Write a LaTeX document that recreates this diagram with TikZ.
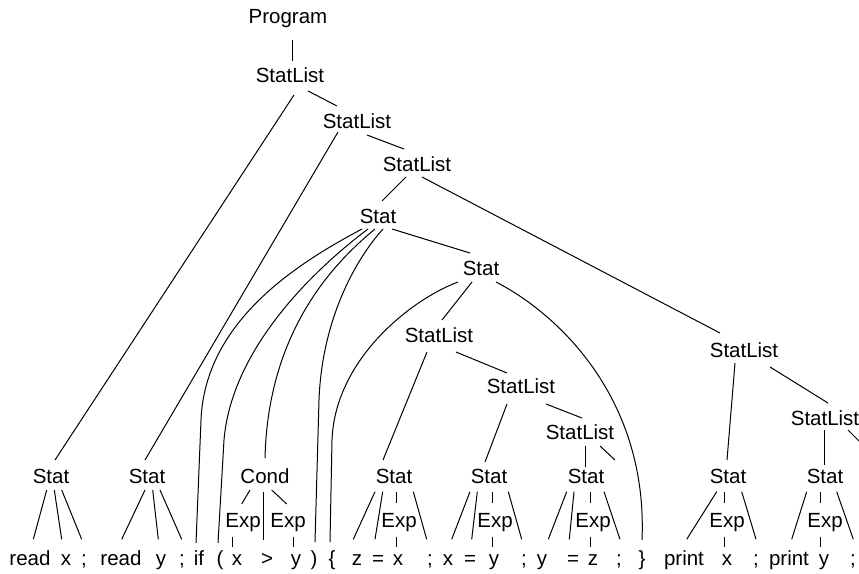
\documentclass[tikz,border=0pt]{standalone}
\usepackage{fontspec}
\setmainfont{Liberation Sans}
\usetikzlibrary{calc}
\newcommand\tedge[4]{\draw[edge] ($(#1.base)+(#2)$) -- ($(#3.base)+(#4)$);}
\begin{document}
\begin{tikzpicture}[x=1pt,y=-1pt,
  lbl/.style={anchor=base,inner sep=0pt,font=\fontsize{20.5}{24}\selectfont},
  edge/.style={line width=1pt,black}]
\useasboundingbox (0,0) rectangle (859,573);
\clip (0,0) rectangle (859,573);
% upper nodes
\node[lbl] (prog) at (288,23) {Program};
\node[lbl] (sl1) at (290,82) {StatList};
\node[lbl] (sl2) at (357,128) {StatList};
\node[lbl] (sl3) at (417,171) {StatList};
\node[lbl] (st0) at (378,223) {Stat};
\node[lbl] (st2) at (481,275) {Stat};
\node[lbl] (sla) at (439,342) {StatList};
\node[lbl] (slb) at (521,393) {StatList};
\node[lbl] (slc) at (580,439) {StatList};
\node[lbl] (slr1) at (744,357) {StatList};
\node[lbl] (slr2) at (825,425) {StatList};
\coordinate (eps) at (615,460);
\coordinate (offr) at (880,462);
% Stat row
\node[lbl] (s1) at (51,483) {Stat};
\node[lbl] (s2) at (147,483) {Stat};
\node[lbl] (cond) at (265,483) {Cond};
\node[lbl] (s3) at (394,483) {Stat};
\node[lbl] (s4) at (489,483) {Stat};
\node[lbl] (s5) at (586,483) {Stat};
\node[lbl] (s6) at (728,483) {Stat};
\node[lbl] (s7) at (825,483) {Stat};
% Exp row
\node[lbl] (e1) at (243,527) {Exp};
\node[lbl] (e2) at (288,527) {Exp};
\node[lbl] (e3) at (399,527) {Exp};
\node[lbl] (e4) at (495,527) {Exp};
\node[lbl] (e5) at (593,527) {Exp};
\node[lbl] (e6) at (727,527) {Exp};
\node[lbl] (e7) at (825,527) {Exp};
% leaves
\node[lbl] (l1) at (30,565) {read};
\node[lbl] (l2) at (66,565) {x};
\node[lbl] (l3) at (84,565) {;};
\node[lbl] (l4) at (121,565) {read};
\node[lbl] (l5) at (161,565) {y};
\node[lbl] (l6) at (182,565) {;};
\node[lbl] (l7) at (199,565) {if};
\node[lbl] (l8) at (220,565) {(};
\node[lbl] (l9) at (237,565) {x};
\node[lbl] (l10) at (267,565) {>};
\node[lbl] (l11) at (296,565) {y};
\node[lbl] (l12) at (314,565) {)};
\node[lbl] (l13) at (332,565) {\{};
\node[lbl] (l14) at (357,565) {z};
\node[lbl] (l15) at (378,565) {=};
\node[lbl] (l16) at (398,565) {x};
\node[lbl] (l17) at (430,565) {;};
\node[lbl] (l18) at (448,565) {x};
\node[lbl] (l19) at (470,565) {=};
\node[lbl] (l20) at (494,565) {y};
\node[lbl] (l21) at (524,565) {;};
\node[lbl] (l22) at (542,565) {y};
\node[lbl] (l23) at (573,565) {=};
\node[lbl] (l24) at (593,565) {z};
\node[lbl] (l25) at (619,565) {;};
\node[lbl] (l26) at (642,565) {\}};
\node[lbl] (l27) at (684,565) {print};
\node[lbl] (l28) at (727,565) {x};
\node[lbl] (l29) at (756,565) {;};
\node[lbl] (l30) at (789,565) {print};
\node[lbl] (l31) at (824,565) {y};
\node[lbl] (l32) at (853,565) {;};
% upper edges
\tedge{prog}{4,17}{sl1}{2,-21}
\tedge{sl1}{18,9}{sl2}{-20,-22}
\tedge{sl1}{4,13}{s1}{4,-23}
\tedge{sl2}{10,7}{sl3}{-13,-22}
\tedge{sl2}{-19,4}{s2}{-2,-23}
\tedge{sl3}{-11,6}{st0}{4,-22}
\tedge{sl3}{5,6}{slr1}{-24,-24}
\tedge{st0}{14,6}{st2}{-11,-22}
\tedge{st2}{-9,7}{sla}{3,-22}
\tedge{sla}{-12,10}{s3}{-11,-23}
\tedge{sla}{17,10}{slb}{-14,-20}
\tedge{slb}{-14,11}{s4}{-4,-21}
\tedge{slb}{25,11}{slc}{2,-21}
\tedge{slc}{5,7}{s5}{-1,-16}
\draw[edge] ($(slc.base)+(20,7)$) -- (eps);
\tedge{slr1}{-9,6}{s6}{-1,-23}
\tedge{slr1}{26,10}{slr2}{3,-22}
\tedge{slr2}{-1,5}{s7}{-1,-18}
\draw[edge] ($(slr2.base)+(23,5)$) -- (offr);
% curved edges
\draw[edge] ($(st0.base)+(-16,6)$) .. controls +(-62,33) and +(4,-100) .. ($(l7.base)+(2,-145)$) -- ($(l7.base)+(-3,-22)$);
\draw[edge] ($(st0.base)+(-10,6)$) .. controls +(-48,36) and +(8,-95) .. ($(l8.base)+(4,-125)$) -- ($(l8.base)+(-2,-22)$);
\draw[edge] ($(st0.base)+(-3,6)$) .. controls +(-40,33) and +(3,-128) .. ($(cond.base)+(0,-25)$);
\draw[edge] ($(st0.base)+(5,6)$) .. controls +(-28,31) and +(3,-80) .. ($(l12.base)+(5,-165)$) -- ($(l12.base)+(1,-23)$);
\draw[edge] ($(st2.base)+(-23,7)$) .. controls +(-48,18) and +(3,-80) .. ($(l13.base)+(0,-125)$) -- ($(l13.base)+(-2,-23)$);
\draw[edge] ($(st2.base)+(15,7)$) .. controls +(64,33) and +(6,-140) .. ($(l26.base)+(0,-25)$);
% Stat (read x)
\tedge{s1}{-4.3,7}{l1}{3.3,-25.7}
\tedge{s1}{3.3,7}{l2}{-4.3,-25.7}
\tedge{s1}{10.7,7}{l3}{-2.3,-25.7}
% Stat (read y)
\tedge{s2}{-2,7}{l4}{0.7,-25.7}
\tedge{s2}{5.7,7}{l5}{-2.7,-25.7}
\tedge{s2}{13,7}{l6}{-0.3,-25.7}
% Cond
\tedge{cond}{-15,7}{e1}{-1.3,-23}
\tedge{cond}{-1.7,8.7}{l10}{-3.7,-25}
\tedge{cond}{6.7,7}{e2}{-1.3,-23}
\tedge{e1}{-10.3,9.7}{l9}{-4.3,-18.3}
\tedge{e2}{5.3,9.7}{l11}{-2.7,-18.3}
% Stat z = x
\tedge{s3}{-19,8.7}{l14}{-3.7,-25.7}
\tedge{s3}{-11.3,8.7}{l15}{-3,-25.7}
\tedge{s3}{2.7,8.7}{e3}{-2.3,-23.7}
\tedge{s3}{19.3,8.7}{l17}{-3.3,-25.7}
\tedge{e3}{-2.3,9.7}{l16}{-1.3,-18.3}
% Stat x = y
\tedge{s4}{-19,8.7}{l18}{3.7,-25.7}
\tedge{s4}{-11.7,8.7}{l19}{1.7,-25.7}
\tedge{s4}{3.7,8.7}{e4}{-2.3,-23.7}
\tedge{s4}{19.3,8.7}{l21}{-2.3,-25.7}
\tedge{e4}{-2.3,9.7}{l20}{-1.3,-18.3}
% Stat y = z
\tedge{s5}{-19.3,8.7}{l22}{6.3,-25.7}
\tedge{s5}{-12,8.7}{l23}{-3.7,-25.7}
\tedge{s5}{4,8.7}{e5}{-3,-23.7}
\tedge{s5}{18,8.7}{l25}{1,-25.7}
\tedge{e5}{-3,9.7}{l24}{-3,-18.3}
% Stat print x
\tedge{s6}{-11.3,8.7}{l27}{2.7,-25.7}
\tedge{s6}{-3.7,8.7}{e6}{-2.7,-23.7}
\tedge{s6}{13.7,8.7}{l29}{0,-25.7}
\tedge{e6}{-2.7,9.7}{l28}{-2.7,-18.3}
% Stat print y
\tedge{s7}{-18.3,8.7}{l30}{2.7,-25.7}
\tedge{s7}{-4.3,8.7}{e7}{-4.3,-23.7}
\tedge{s7}{11.7,8.7}{l32}{0.3,-25.7}
\tedge{e7}{-4.3,9.7}{l31}{-3.3,-18.3}
\end{tikzpicture}
\end{document}
